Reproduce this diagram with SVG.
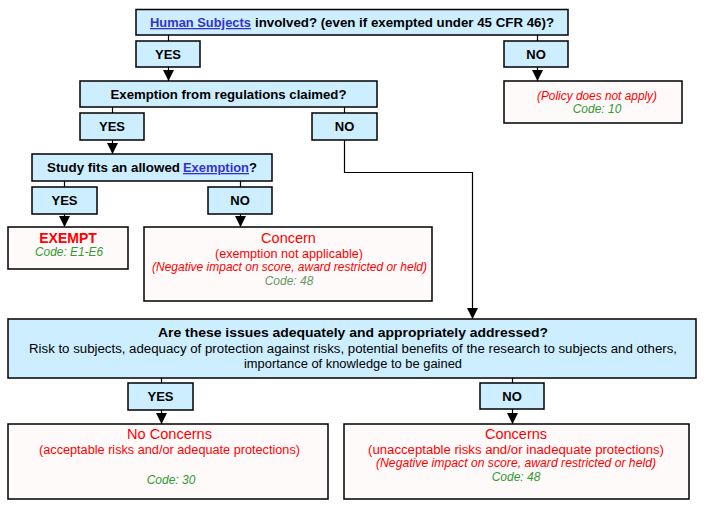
<svg xmlns="http://www.w3.org/2000/svg" width="710" height="509" viewBox="0 0 710 509">
<style>
.q{fill:#cceeff;stroke:#000;stroke-width:1.5}
.r{fill:#fffafa;stroke:#000;stroke-width:1.5}
.b{font-family:"Liberation Sans",Arial,sans-serif;font-weight:bold;font-size:13px;fill:#000}
.n{font-family:"Liberation Sans",Arial,sans-serif;font-size:12px;fill:#000}
.lk{fill:#3333cc;text-decoration:underline}
.red{font-family:"Liberation Sans",Arial,sans-serif;fill:#ff0000}
.ri{font-family:"Liberation Sans",Arial,sans-serif;font-style:italic;font-size:12px;fill:#ff0000}
.g{font-family:"Liberation Sans",Arial,sans-serif;font-style:italic;font-size:12px;fill:#339933}
.gm{font-family:"Liberation Sans",Arial,sans-serif;font-style:italic;font-size:12px;fill:#669966}
.c{text-anchor:middle}
.ln{fill:none;stroke:#000;stroke-width:1.2}
</style>
<defs>
<marker id="ah" viewBox="0 0 11 11" refX="11" refY="5.5" markerWidth="11" markerHeight="11" markerUnits="userSpaceOnUse" orient="auto">
<path d="M0,0 L11,5.5 L0,11 z" fill="#000"/>
</marker>
</defs>
<g id="connectors">
<path class="ln" d="M168.5,35 V41"/>
<path class="ln" d="M168.5,67 V81" marker-end="url(#ah)"/>
<path class="ln" d="M537.5,35 V41"/>
<path class="ln" d="M537.5,67 V81" marker-end="url(#ah)"/>
<path class="ln" d="M112.5,107 V113"/>
<path class="ln" d="M112.5,140 V154" marker-end="url(#ah)"/>
<path class="ln" d="M344.5,107 V113"/>
<path class="ln" d="M344.5,140 V172.5 H472.5 V319" marker-end="url(#ah)"/>
<path class="ln" d="M64.5,181 V187"/>
<path class="ln" d="M64.5,214 V227" marker-end="url(#ah)"/>
<path class="ln" d="M240.5,181 V187"/>
<path class="ln" d="M240.5,214 V227" marker-end="url(#ah)"/>
<path class="ln" d="M161.5,378 V383"/>
<path class="ln" d="M161.5,410 V424" marker-end="url(#ah)"/>
<path class="ln" d="M512.5,378 V383"/>
<path class="ln" d="M512.5,409 V424" marker-end="url(#ah)"/>
</g>
<g id="q-human">
<rect class="q" x="136" y="9.5" width="432" height="25.5"/>
<text class="b lk" x="150" y="27" textLength="101" lengthAdjust="spacingAndGlyphs">Human Subjects</text>
<text class="b" x="255" y="27" textLength="299" lengthAdjust="spacingAndGlyphs">involved? (even if exempted under 45 CFR 46)?</text>
</g>
<g id="yes1"><rect class="q" x="136" y="41" width="64" height="26"/><text class="b c" x="168" y="59">YES</text></g>
<g id="no1"><rect class="q" x="504" y="41" width="64" height="26"/><text class="b c" x="536" y="59">NO</text></g>
<g id="policy">
<rect class="r" x="504" y="81" width="178" height="42"/>
<text class="ri c" x="597" y="100" textLength="120" lengthAdjust="spacingAndGlyphs">(Policy does not apply)</text>
<text class="g c" x="597" y="113">Code: 10</text>
</g>
<g id="q-exemption">
<rect class="q" x="80" y="81" width="297" height="26"/>
<text class="b c" x="228.5" y="99" textLength="236" lengthAdjust="spacingAndGlyphs">Exemption from regulations claimed?</text>
</g>
<g id="yes2"><rect class="q" x="80" y="113" width="64" height="27"/><text class="b c" x="112" y="131">YES</text></g>
<g id="no2"><rect class="q" x="312" y="113" width="65" height="27"/><text class="b c" x="344.5" y="131">NO</text></g>
<g id="q-study">
<rect class="q" x="32" y="154" width="240" height="27"/>
<text class="b" x="47" y="172" textLength="133" lengthAdjust="spacingAndGlyphs">Study fits an allowed</text>
<text class="b lk" x="183" y="172" textLength="66" lengthAdjust="spacingAndGlyphs">Exemption</text>
<text class="b" x="249" y="172">?</text>
</g>
<g id="yes3"><rect class="q" x="32" y="187" width="65" height="27"/><text class="b c" x="64.5" y="205">YES</text></g>
<g id="no3"><rect class="q" x="208" y="187" width="64" height="27"/><text class="b c" x="240" y="205">NO</text></g>
<g id="exempt">
<rect class="r" x="8" y="227" width="120" height="42"/>
<text class="red c" x="68" y="243" font-size="14" font-weight="bold">EXEMPT</text>
<text class="g c" x="69" y="256" textLength="68" lengthAdjust="spacingAndGlyphs">Code: E1-E6</text>
</g>
<g id="concern">
<rect class="r" x="144" y="227" width="288" height="74"/>
<text class="red c" x="288.5" y="243" font-size="14.5">Concern</text>
<text class="red c" x="289" y="258" font-size="12" textLength="148" lengthAdjust="spacingAndGlyphs">(exemption not applicable)</text>
<text class="ri c" x="289.5" y="271" textLength="275" lengthAdjust="spacingAndGlyphs">(Negative impact on score, award restricted or held)</text>
<text class="gm c" x="289" y="285">Code: 48</text>
</g>
<g id="q-issues">
<rect class="q" x="8" y="319" width="688" height="59"/>
<text class="b c" x="353" y="337" textLength="390" lengthAdjust="spacingAndGlyphs">Are these issues adequately and appropriately addressed?</text>
<text class="n c" x="353" y="353" textLength="648" lengthAdjust="spacingAndGlyphs">Risk to subjects, adequacy of protection against risks, potential benefits of the research to subjects and others,</text>
<text class="n c" x="353" y="368" textLength="218" lengthAdjust="spacingAndGlyphs">importance of knowledge to be gained</text>
</g>
<g id="yes4"><rect class="q" x="128" y="383" width="65" height="27"/><text class="b c" x="160.5" y="401">YES</text></g>
<g id="no4"><rect class="q" x="480" y="383" width="64" height="26"/><text class="b c" x="512" y="401">NO</text></g>
<g id="no-concerns">
<rect class="r" x="8" y="424" width="320" height="75"/>
<text class="red c" x="169.5" y="439" font-size="14.5" textLength="85" lengthAdjust="spacingAndGlyphs">No Concerns</text>
<text class="red c" x="169.5" y="454" font-size="12" textLength="261" lengthAdjust="spacingAndGlyphs">(acceptable risks and/or adequate protections)</text>
<text class="g c" x="171" y="484">Code: 30</text>
</g>
<g id="concerns">
<rect class="r" x="344" y="424" width="345" height="75"/>
<text class="red c" x="516" y="439" font-size="14.5">Concerns</text>
<text class="red c" x="516" y="454" font-size="12" textLength="296" lengthAdjust="spacingAndGlyphs">(unacceptable risks and/or inadequate protections)</text>
<text class="ri c" x="516" y="467" textLength="280" lengthAdjust="spacingAndGlyphs">(Negative impact on score, award restricted or held)</text>
<text class="g c" x="516" y="481">Code: 48</text>
</g>
</svg>
